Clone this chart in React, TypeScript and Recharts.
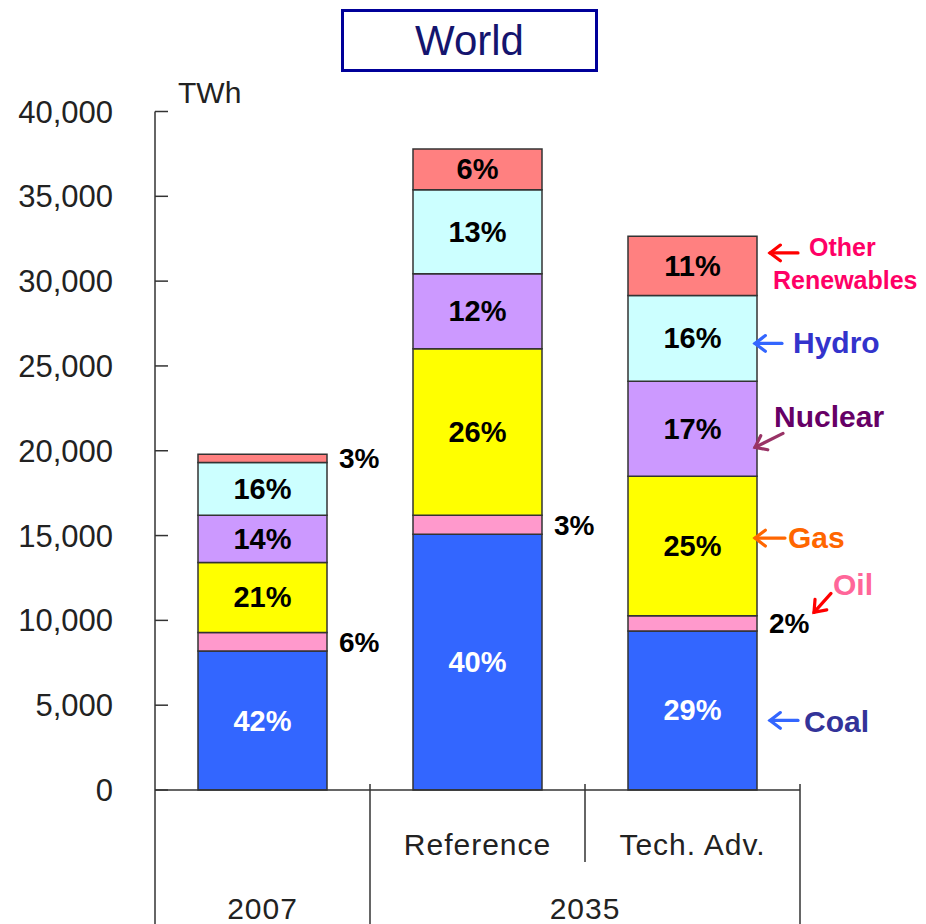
import React from "react";
import { BarChart, Bar, XAxis, YAxis, LabelList } from "recharts";

// TWh by source
const categories = ["2007", "Reference", "Tech. Adv."];
const coal = [8190, 15080, 9380];
const oil = [1100, 1120, 890];
const gas = [4120, 9810, 8220];
const nuclear = [2790, 4420, 5600];
const hydro = [3100, 4960, 5060];
const other = [490, 2400, 3490];

// share labels printed on the bars
const coalPct = ["42%", "40%", "29%"];
const oilPct = ["6%", "3%", "2%"];
const gasPct = ["21%", "26%", "25%"];
const nuclearPct = ["14%", "12%", "17%"];
const hydroPct = ["16%", "13%", "16%"];
const otherPct = ["3%", "6%", "11%"];

const yTicks = [0, 5000, 10000, 15000, 20000, 25000, 30000, 35000, 40000];

const W = 926;
const H = 924;
const MARGIN = { top: 111.5, right: 126, left: 0, bottom: 0 };
const Y_AXIS_W = 155;
const X_AXIS_H = 134;
const HALF_BAND = (W - MARGIN.left - MARGIN.right - Y_AXIS_W) / categories.length / 2;

const SANS = "'Liberation Sans', Arial, sans-serif";
const INK = "#222";

const series = [
  { key: "coal", name: "Coal", fill: "#3366ff", values: coal, pct: coalPct, ink: "#fff" },
  { key: "oil", name: "Oil", fill: "#ff99cc", values: oil, pct: oilPct, ink: "#000" },
  { key: "gas", name: "Gas", fill: "#ffff00", values: gas, pct: gasPct, ink: "#000" },
  { key: "nuclear", name: "Nuclear", fill: "#cc99ff", values: nuclear, pct: nuclearPct, ink: "#000" },
  { key: "hydro", name: "Hydro", fill: "#ccffff", values: hydro, pct: hydroPct, ink: "#000" },
  { key: "other", name: "Other Renewables", fill: "#ff8080", values: other, pct: otherPct, ink: "#000" },
];

const data = categories.map((name, i) => {
  const row: Record<string, string | number> = { name };
  series.forEach((s) => {
    row[s.key] = s.values[i];
    row[s.key + "Pct"] = s.pct[i];
  });
  return row;
});

// callouts next to the last bar: offsets from (bar right edge, segment middle)
type Note = {
  lines: [string, number, number][];
  size: number;
  color: string;
  arrow: string;
  tail: [number, number];
  head: [number, number];
};
const notes: Record<string, Note> = {
  other: { lines: [["Other", 52, -10], ["Renewables", 16, 23]], size: 25, color: "#ff0066", arrow: "#ff0000", tail: [41, -13], head: [13, -13] },
  hydro: { lines: [["Hydro", 36, 15]], size: 30, color: "#3333cc", arrow: "#3366ff", tail: [25, 5], head: [-2, 5] },
  nuclear: { lines: [["Nuclear", 17, -1.5]], size: 30, color: "#660066", arrow: "#993366", tail: [26, 4.5], head: [-2, 18.5] },
  gas: { lines: [["Gas", 31, 2]], size: 30, color: "#ff6600", arrow: "#ff6600", tail: [28, -8], head: [-2, -8] },
  oil: { lines: [["Oil", 76, -28]], size: 30, color: "#ff6699", arrow: "#ff0000", tail: [74, -30], head: [57, -11] },
  coal: { lines: [["Coal", 47, 22]], size: 30, color: "#333399", arrow: "#3366ff", tail: [41, 10], head: [13, 10] },
};

function Arrow({ x1, y1, x2, y2, color }: any) {
  const a = Math.atan2(y1 - y2, x1 - x2);
  const len = 13;
  const spread = 0.65;
  const p1 = [x2 + len * Math.cos(a + spread), y2 + len * Math.sin(a + spread)];
  const p2 = [x2 + len * Math.cos(a - spread), y2 + len * Math.sin(a - spread)];
  return (
    <g stroke={color} strokeWidth={3.2} strokeLinecap="round" fill="none">
      <line x1={x1} y1={y1} x2={x2} y2={y2} />
      <polyline points={`${p1[0]},${p1[1]} ${x2},${y2} ${p2[0]},${p2[1]}`} />
    </g>
  );
}

const shareLabel = (ink: string) => (props: any) => {
  const { x, y, width, height, value } = props;
  const cy = y + height / 2;
  if (height < 25) {
    return (
      <text x={x + width + 12} y={cy + 10} textAnchor="start" fontFamily={SANS} fontWeight="bold" fontSize={28} fill="#000">
        {value}
      </text>
    );
  }
  return (
    <text x={x + width / 2} y={cy + 10} textAnchor="middle" fontFamily={SANS} fontWeight="bold" fontSize={29} fill={ink}>
      {value}
    </text>
  );
};

const noteLabel = (key: string) => (props: any) => {
  const { x, y, width, height, index } = props;
  if (index !== categories.length - 1) return null;
  const n = notes[key];
  const bx = x + width;
  const cy = y + height / 2;
  return (
    <g>
      <Arrow x1={bx + n.tail[0]} y1={cy + n.tail[1]} x2={bx + n.head[0]} y2={cy + n.head[1]} color={n.arrow} />
      {n.lines.map(([t, dx, dy]) => (
        <text key={t} x={bx + dx} y={cy + dy} fontFamily={SANS} fontWeight="bold" fontSize={n.size} fill={n.color}>
          {t}
        </text>
      ))}
    </g>
  );
};

function YTick(props: any) {
  const { x, y, payload } = props;
  return (
    <g>
      <line x1={x} y1={y} x2={x + 13} y2={y} stroke="#333" strokeWidth={1.5} />
      <text x={x - 42} y={y + 11} textAnchor="end" fontFamily={SANS} fontSize={31} fill={INK}>
        {payload.value.toLocaleString("en-US")}
      </text>
    </g>
  );
}

function XTick(props: any) {
  const { x, y, index, payload } = props;
  const bottom = y + X_AXIS_H;
  const left = x - HALF_BAND;
  const right = x + HALF_BAND;
  const txt = { fontFamily: SANS, fontSize: 30, fill: INK, letterSpacing: 1, textAnchor: "middle" as const };
  const line = { stroke: "#333", strokeWidth: 1.5 };
  if (index === 0) {
    return (
      <g>
        <line x1={left} y1={y} x2={left} y2={bottom} {...line} />
        <line x1={right} y1={y - 6} x2={right} y2={bottom} {...line} />
        <text x={x} y={y + 129} {...txt}>{payload.value}</text>
      </g>
    );
  }
  if (index === 1) {
    return (
      <g>
        <line x1={right} y1={y - 6} x2={right} y2={y + 72} {...line} />
        <text x={x} y={y + 65} {...txt}>{payload.value}</text>
        <text x={right} y={y + 129} {...txt}>2035</text>
      </g>
    );
  }
  return (
    <g>
      <line x1={right} y1={y - 6} x2={right} y2={bottom} {...line} />
      <text x={x} y={y + 65} {...txt}>{payload.value}</text>
    </g>
  );
}

export default function App() {
  return (
    <div style={{ position: "absolute", left: 0, top: 0, width: W, height: H, background: "#fff" }}>
      <div
        style={{
          position: "absolute",
          left: 341,
          top: 9,
          width: 251,
          height: 57,
          border: "3px solid #000099",
          fontFamily: SANS,
          fontSize: 42,
          lineHeight: "57px",
          textAlign: "center",
          color: "#14146e",
        }}
      >
        World
      </div>
      <div style={{ position: "absolute", left: 178, top: 76, fontFamily: SANS, fontSize: 30, color: INK }}>TWh</div>
      <BarChart width={W} height={H} data={data} margin={MARGIN} barCategoryGap="20%">
        <XAxis
          dataKey="name"
          height={X_AXIS_H}
          axisLine={{ stroke: "#333", strokeWidth: 1.5 }}
          tickLine={false}
          tickSize={0}
          tickMargin={0}
          tick={<XTick />}
          interval={0}
        />
        <YAxis
          width={Y_AXIS_W}
          domain={[0, 40000]}
          ticks={yTicks}
          axisLine={{ stroke: "#333", strokeWidth: 1.5 }}
          tickLine={false}
          tickSize={0}
          tickMargin={0}
          tick={<YTick />}
          interval={0}
        />
        {series.map((s) => (
          <Bar key={s.key} dataKey={s.key} name={s.name} stackId="a" fill={s.fill} stroke="#333" strokeWidth={1.5} isAnimationActive={false}>
            <LabelList dataKey={s.key + "Pct"} content={shareLabel(s.ink)} />
            <LabelList dataKey={s.key + "Pct"} content={noteLabel(s.key)} />
          </Bar>
        ))}
      </BarChart>
    </div>
  );
}
